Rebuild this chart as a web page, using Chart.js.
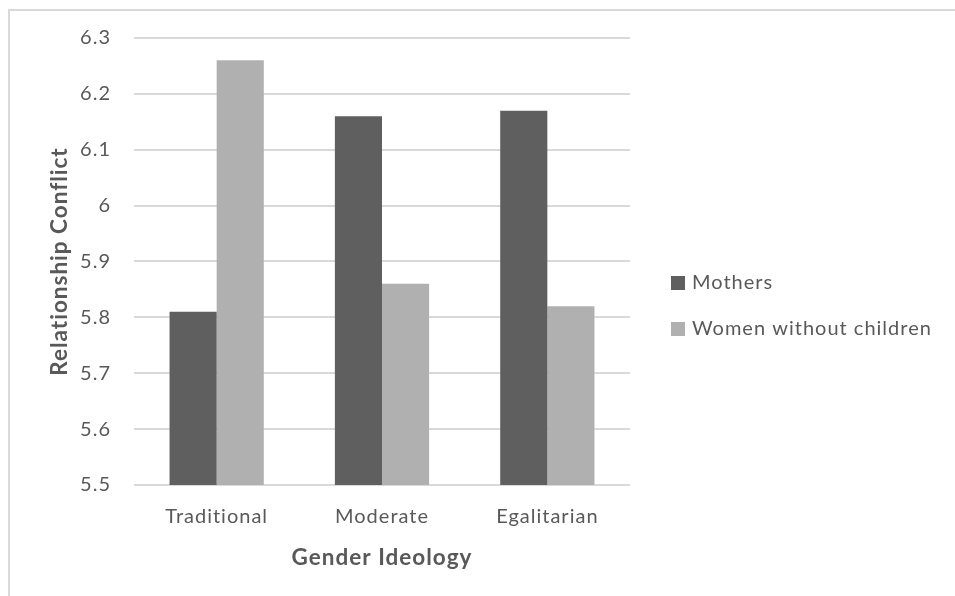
<!DOCTYPE html>
<html>
<head>
<meta charset="utf-8">
<script src="https://cdn.jsdelivr.net/npm/chart.js@4.4.1/dist/chart.umd.min.js"></script>
<style>
  html, body { margin: 0; padding: 0; background: #ffffff; }
  #wrap { position: relative; width: 955px; height: 596px; overflow: hidden; }
  #frame { position: absolute; left: 8px; top: 9px; width: 1000px; height: 700px;
           border-left: 2px solid #d9d9d9; border-top: 2px solid #d9d9d9; }
  canvas { position: absolute; left: 0; top: 0; }
</style>
</head>
<body>
<div id="wrap">
  <div id="frame"></div>
  <canvas id="c" width="955" height="596"></canvas>
</div>
<script>
const categories = ["Traditional", "Moderate", "Egalitarian"];
const mothers = [5.81, 6.16, 6.17];
const womenWithoutChildren = [6.26, 5.86, 5.82];
const seriesNames = ["Mothers", "Women without children"];
const yTicks = [5.5, 5.6, 5.7, 5.8, 5.9, 6.0, 6.1, 6.2, 6.3];
const xTitle = "Gender Ideology";
const yTitle = "Relationship Conflict";

const FONT = "Lato, 'Open Sans', sans-serif";
const TEXT = "#595959";

const spacingPlugin = {
  id: 'spacing',
  beforeLayout(chart) { chart.ctx.letterSpacing = '1px'; },
  beforeDraw(chart) { chart.ctx.letterSpacing = '1px'; }
};

const legendPlugin = {
  id: 'customLegend',
  afterDraw(chart) {
    const ctx = chart.ctx;
    ctx.save();
    ctx.letterSpacing = '1px';
    ctx.font = "20px " + FONT;
    ctx.textBaseline = 'middle';
    ctx.textAlign = 'left';
    chart.data.datasets.forEach((ds, i) => {
      const y = 283 + i * 46;
      ctx.fillStyle = ds.backgroundColor;
      ctx.fillRect(671, y - 7, 14, 14);
      ctx.fillStyle = TEXT;
      ctx.fillText(ds.label, 692, y);
    });
    ctx.restore();
  }
};

new Chart(document.getElementById('c'), {
  type: 'bar',
  data: {
    labels: categories,
    datasets: [
      { label: seriesNames[0], data: mothers, backgroundColor: '#5f5f5f' },
      { label: seriesNames[1], data: womenWithoutChildren, backgroundColor: '#b0b0b0' }
    ]
  },
  options: {
    responsive: false,
    animation: false,
    devicePixelRatio: 1,
    layout: { padding: { left: 0, right: 325, top: 38, bottom: 0 } },
    datasets: { bar: { categoryPercentage: 0.57, barPercentage: 1.0 } },
    plugins: { legend: { display: false }, tooltip: { enabled: false } },
    scales: {
      x: {
        grid: { display: false, drawTicks: false },
        border: { display: false },
        ticks: { color: TEXT, font: { family: FONT, size: 20 }, padding: 20, maxRotation: 0 },
        title: { display: true, text: xTitle, color: TEXT, font: { family: FONT, size: 22.5, weight: 'bold' }, padding: { top: 0, bottom: 25 } },
        afterFit(scale) { scale.height = 596 - 485; }
      },
      y: {
        min: 5.5, max: 6.3,
        afterBuildTicks(scale) { scale.ticks = yTicks.map(v => ({ value: v })); },
        grid: { color: '#d9d9d9', lineWidth: 2, drawTicks: false },
        border: { display: false },
        ticks: {
          color: TEXT, font: { family: FONT, size: 20 }, padding: 23,
          callback: (v) => String(Number(Number(v).toFixed(1)))
        },
        title: { display: true, text: yTitle, color: TEXT, font: { family: FONT, size: 22.5, weight: 'bold' }, padding: { top: 46.5, bottom: 0 } },
        afterFit(scale) { scale.width = 134; }
      }
    }
  },
  plugins: [spacingPlugin, legendPlugin]
});
</script>
</body>
</html>
